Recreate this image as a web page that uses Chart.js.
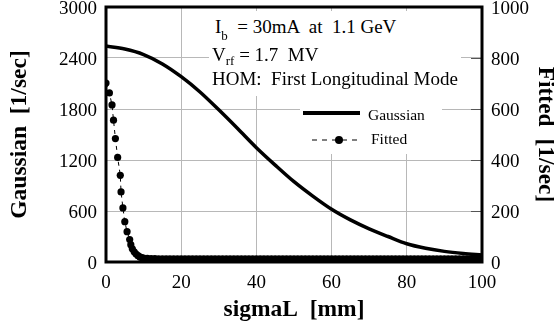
<!DOCTYPE html>
<html>
<head>
<meta charset="utf-8">
<script src="https://cdn.jsdelivr.net/npm/chart.js@4.4.0/dist/chart.umd.min.js"></script>
<style>
  html, body { margin: 0; padding: 0; background: #fff; }
  #wrap { position: relative; width: 554px; height: 325px; }
  canvas { position: absolute; left: 0; top: 0; }
  .ov { position: absolute; font-family: 'Liberation Serif', 'Times New Roman', serif; color: #000; white-space: pre; }
  .box { position: absolute; background: #fff; }
  .ann { font-size: 19px; line-height: 19px; }
  .leg { font-size: 15.5px; line-height: 16px; }
  .sub { position: relative; font-size: 13px; }
</style>
</head>
<body>
<div id="wrap">
  <canvas id="c" width="554" height="325"></canvas>
  <div class="box" style="left:209px;top:11px;width:252px;height:85px;"></div>
  <div class="box" style="left:300px;top:96px;width:142px;height:58px;"></div>
  <div class="ov ann" style="left:215px;top:17px;">I<span class="sub" style="top:7px;">b</span>  = 30mA  at  1.1 GeV</div>
  <div class="ov ann" style="left:212px;top:45px;">V<span class="sub" style="top:4px;">rf</span> = 1.7  MV</div>
  <div class="ov ann" style="left:212px;top:69px;">HOM:  First Longitudinal Mode</div>
  <div style="position:absolute;left:303px;top:111px;width:57px;height:4px;background:#000;"></div>
  <div class="ov leg" style="left:368px;top:107px;">Gaussian</div>
  <svg style="position:absolute;left:308px;top:133px;" width="58" height="14">
    <line x1="4" y1="7" x2="54" y2="7" stroke="#000" stroke-width="1" stroke-dasharray="5 5"></line>
    <circle cx="31" cy="7" r="4" fill="#000"></circle>
  </svg>
  <div class="ov leg" style="left:371px;top:131px;">Fitted</div>
</div>
<script>
const FONT = "'Liberation Serif', 'Times New Roman', serif";
Chart.defaults.font.family = FONT;
Chart.defaults.color = '#000';

// Gaussian curve (left axis, 1/sec) vs sigmaL (mm)
const gaussX = [0, 5, 10, 15, 20, 25, 30, 35, 40, 45, 50, 55, 60, 65, 70, 75, 80, 85, 90, 95, 100];
const gaussY = [2540, 2505, 2440, 2330, 2180, 2000, 1790, 1570, 1345, 1140, 945, 775, 620, 495, 390, 300, 215, 162, 125, 100, 82];

// Fitted points (right axis, 1/sec) vs sigmaL (mm)
const fittedX = [0, 0.9, 1.6, 2.0, 2.5, 3.1, 3.8, 4.0, 4.5, 5.0, 5.6, 6.3, 6.6, 7.0, 7.5, 8.0, 8.5, 9.0, 9.5,
  10, 11, 12, 13, 14, 15, 16, 17, 18, 19, 20, 21, 22, 23, 24, 25, 26, 27, 28, 29, 30,
  31, 32, 33, 34, 35, 36, 37, 38, 39, 40, 41, 42, 43, 44, 45, 46, 47, 48, 49, 50,
  51, 52, 53, 54, 55, 56, 57, 58, 59, 60, 61, 62, 63, 64, 65, 66, 67, 68, 69, 70,
  71, 72, 73, 74, 75, 76, 77, 78, 79, 80, 81, 82, 83, 84, 85, 86, 87, 88, 89, 90,
  91, 92, 93, 94, 95, 96, 97, 98, 99, 100];
const fittedY = [702, 663, 616, 556, 484, 410, 340, 275, 212, 158, 119, 88, 68, 52, 40, 31, 25, 20, 17,
  15, 14, 13, 13, 12, 12, 12, 12, 12, 12, 12, 12, 12, 12, 12, 12, 12, 12, 12, 12, 12,
  12, 12, 12, 12, 12, 12, 12, 12, 12, 12, 12, 12, 12, 12, 12, 12, 12, 12, 12, 12,
  12, 12, 12, 12, 12, 12, 12, 12, 12, 12, 12, 12, 12, 12, 12, 12, 12, 12, 12, 12,
  12, 12, 12, 12, 12, 12, 12, 12, 12, 12, 12, 12, 12, 12, 12, 12, 12, 12, 12, 12,
  12, 12, 12, 12, 12, 12, 12, 12, 13, 13];

const xTicks = [0, 20, 40, 60, 80, 100];
const leftTicks = [0, 600, 1200, 1800, 2400, 3000];
const rightTicks = [0, 200, 400, 600, 800, 1000];

const gaussData = gaussX.map((x, i) => ({ x: x, y: gaussY[i] }));
const fittedData = fittedX.map((x, i) => ({ x: x, y: fittedY[i] }));

const framePlugin = {
  id: 'frame',
  beforeDatasetsDraw(chart) {
    const { ctx, chartArea: a, scales } = chart;
    ctx.save();
    ctx.strokeStyle = '#555';
    ctx.lineWidth = 1;
    rightTicks.forEach(v => {
      const y = Math.round(scales.y2.getPixelForValue(v)) + 0.5;
      ctx.beginPath();
      ctx.moveTo(a.right - 11, y);
      ctx.lineTo(a.right, y);
      ctx.stroke();
    });
    ctx.strokeStyle = '#000';
    ctx.lineWidth = 3;
    ctx.strokeRect(a.left, a.top, a.right - a.left, a.bottom - a.top);
    ctx.restore();
  }
};

const tickFont = { family: FONT, size: 19 };
const titleFont = lh => ({ family: FONT, size: 23.5, weight: 'bold', lineHeight: lh });
const plain = v => String(v);

new Chart(document.getElementById('c'), {
  type: 'line',
  data: {
    datasets: [
      {
        label: 'Gaussian',
        data: gaussData,
        yAxisID: 'y',
        borderColor: '#000',
        borderWidth: 3.5,
        pointRadius: 0,
        cubicInterpolationMode: 'monotone',
        fill: false
      },
      {
        label: 'Fitted',
        data: fittedData,
        yAxisID: 'y2',
        borderColor: '#000',
        borderWidth: 1,
        borderDash: [4, 4],
        pointRadius: 3.6,
        pointBackgroundColor: '#000',
        pointBorderWidth: 0,
        fill: false
      }
    ]
  },
  options: {
    responsive: false,
    animation: false,
    devicePixelRatio: 1,
    layout: { padding: { top: 7, left: 0, right: 0, bottom: 0 } },
    plugins: { legend: { display: false }, tooltip: { enabled: false } },
    scales: {
      x: {
        type: 'linear',
        position: 'bottom',
        min: 0, max: 100,
        afterBuildTicks: s => { s.ticks = xTicks.map(v => ({ value: v })); },
        ticks: { font: tickFont, color: '#000', padding: 10, maxRotation: 0, callback: plain },
        grid: { color: '#b8b8b8', lineWidth: 1, drawTicks: false },
        border: { display: false },
        title: { display: true, text: 'sigmaL  [mm]', color: '#000',
                 font: titleFont(1.2), padding: { top: 0, bottom: 1 } },
        afterFit: s => { s.height = 63; s.paddingLeft = 0; s.paddingRight = 0; }
      },
      y: {
        type: 'linear',
        position: 'left',
        min: 0, max: 3000,
        afterBuildTicks: s => { s.ticks = leftTicks.map(v => ({ value: v })); },
        ticks: { font: tickFont, color: '#000', padding: 9, labelOffset: 2, callback: plain },
        grid: { color: '#b8b8b8', lineWidth: 1, drawTicks: false },
        border: { display: false },
        title: { display: true, text: 'Gaussian  [1/sec]', color: '#000',
                 font: titleFont(1.2), padding: { top: 6, bottom: 0 } },
        afterFit: s => { s.width = 106; s.paddingTop = 0; s.paddingBottom = 0; }
      },
      y2: {
        type: 'linear',
        position: 'right',
        min: 0, max: 1000,
        afterBuildTicks: s => { s.ticks = rightTicks.map(v => ({ value: v })); },
        ticks: { font: tickFont, color: '#000', padding: 9, labelOffset: 2, callback: plain },
        grid: { drawOnChartArea: false, drawTicks: false },
        border: { display: false },
        title: { display: true, text: 'Fitted  [1/sec]', color: '#000',
                 font: titleFont(0.78), padding: { top: 0, bottom: 0 } },
        afterFit: s => { s.width = 72; s.paddingTop = 0; s.paddingBottom = 0; }
      }
    }
  },
  plugins: [framePlugin]
});
</script>
</body>
</html>
